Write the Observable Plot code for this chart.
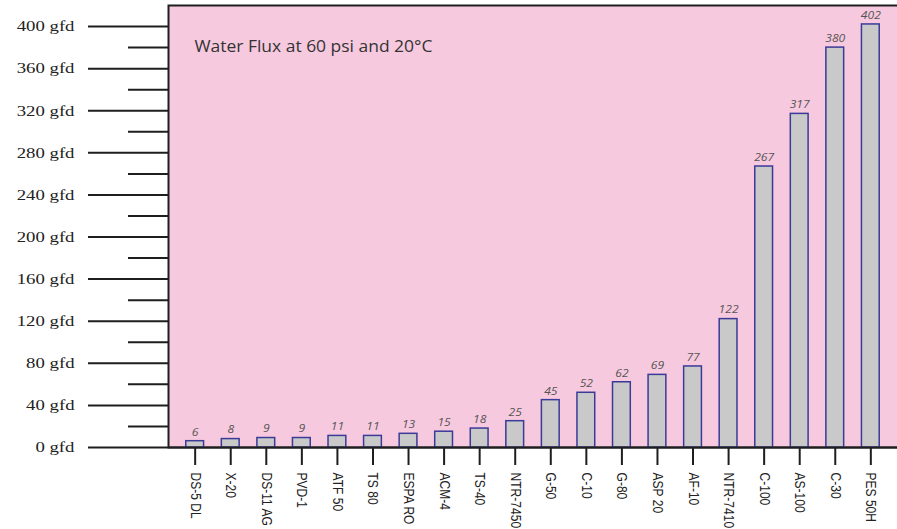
<!DOCTYPE html>
<html>
<head>
<meta charset="utf-8">
<script src="https://cdn.jsdelivr.net/npm/d3@7"></script>
<script src="https://cdn.jsdelivr.net/npm/@observablehq/plot@0.6"></script>
<style>
  html, body { margin: 0; padding: 0; background: #ffffff; }
  svg { display: block; }
</style>
</head>
<body>
<div id="chart"></div>
<script>
const membranes = ["DS-5 DL","X-20","DS-11 AG","PVD-1","ATF 50","TS 80","ESPA RO","ACM-4","TS-40","NTR-7450","G-50","C-10","G-80","ASP 20","AF-10","NTR-7410","C-100","AS-100","C-30","PES 50H"];
const flux = [6,8,9,9,11,11,13,15,18,25,45,52,62,69,77,122,267,317,380,402];
const majorTicks = [0,40,80,120,160,200,240,280,320,360,400];
const minorTicks = [20,60,100,140,180,220,260,300,340,380];
const title = "Water Flux at 60 psi and 20°C";

const data = membranes.map((m, i) => ({membrane: m, flux: flux[i]}));

const chart = Plot.plot({
  width: 897,
  height: 529,
  marginLeft: 168,
  marginRight: 0,
  marginTop: 5,
  marginBottom: 82,
  style: {background: "#ffffff", overflow: "visible"},
  x: {domain: membranes, paddingInner: 0.5, paddingOuter: 0.5, round: false},
  y: {domain: [0, 420]},
  marks: [
    Plot.frame({fill: "#f7c9de"}),
    Plot.frame({stroke: "#1e1e1e", strokeWidth: 2, insetRight: -4}),
    Plot.barY(data, {x: "membrane", y: "flux", fill: "#c9c9c9", stroke: "#3a3a98", strokeWidth: 1.5}),
    Plot.text(data, {x: "membrane", y: "flux", text: d => String(d.flux), dy: -9,
      fontFamily: "Open Sans", fontStyle: "italic", fontSize: 10.5, fill: "#555", className: "vlabel"}),
    Plot.text([title], {frameAnchor: "top-left", dx: 26, dy: 41, lineAnchor: "middle", text: d => d, textAnchor: "start",
      fontFamily: "Open Sans", fontSize: 16, fill: "#333", className: "ttl"}),
    Plot.axisY(majorTicks, {anchor: "left", tickSize: 80, tickPadding: 14, strokeWidth: 2, stroke: "#1e1e1e",
      tickFormat: d => d + " gfd", fontFamily: "Liberation Serif", fontSize: 15, fill: "#222", label: null}),
    Plot.axisY(minorTicks, {anchor: "left", tickSize: 40, tickFormat: null, text: null, strokeWidth: 2, stroke: "#1e1e1e", label: null}),
    Plot.axisX({anchor: "bottom", tickSize: 18, tickPadding: 7, tickRotate: 90, strokeWidth: 2, stroke: "#1e1e1e",
      fontFamily: "Liberation Sans", fontSize: 14, fill: "#222", label: null}),
    Plot.ruleY([0], {stroke: "#1e1e1e", strokeWidth: 2})
  ]
});
document.getElementById("chart").appendChild(chart);

// the reference's faces are narrower / wider than the installed ones: adjust text lengths
function stretch(selector, factor) {
  d3.select(chart).selectAll(selector).each(function() {
    const L = this.getComputedTextLength();
    this.setAttribute("textLength", (L * factor).toFixed(1));
    this.setAttribute("lengthAdjust", "spacingAndGlyphs");
  });
}
stretch('g[aria-label="x-axis tick label"] text', 0.86);
stretch('g[aria-label="y-axis tick label"] text', 1.25);
stretch('g.vlabel text', 1.15);
stretch('g.ttl text', 1.09);
</script>
</body>
</html>
